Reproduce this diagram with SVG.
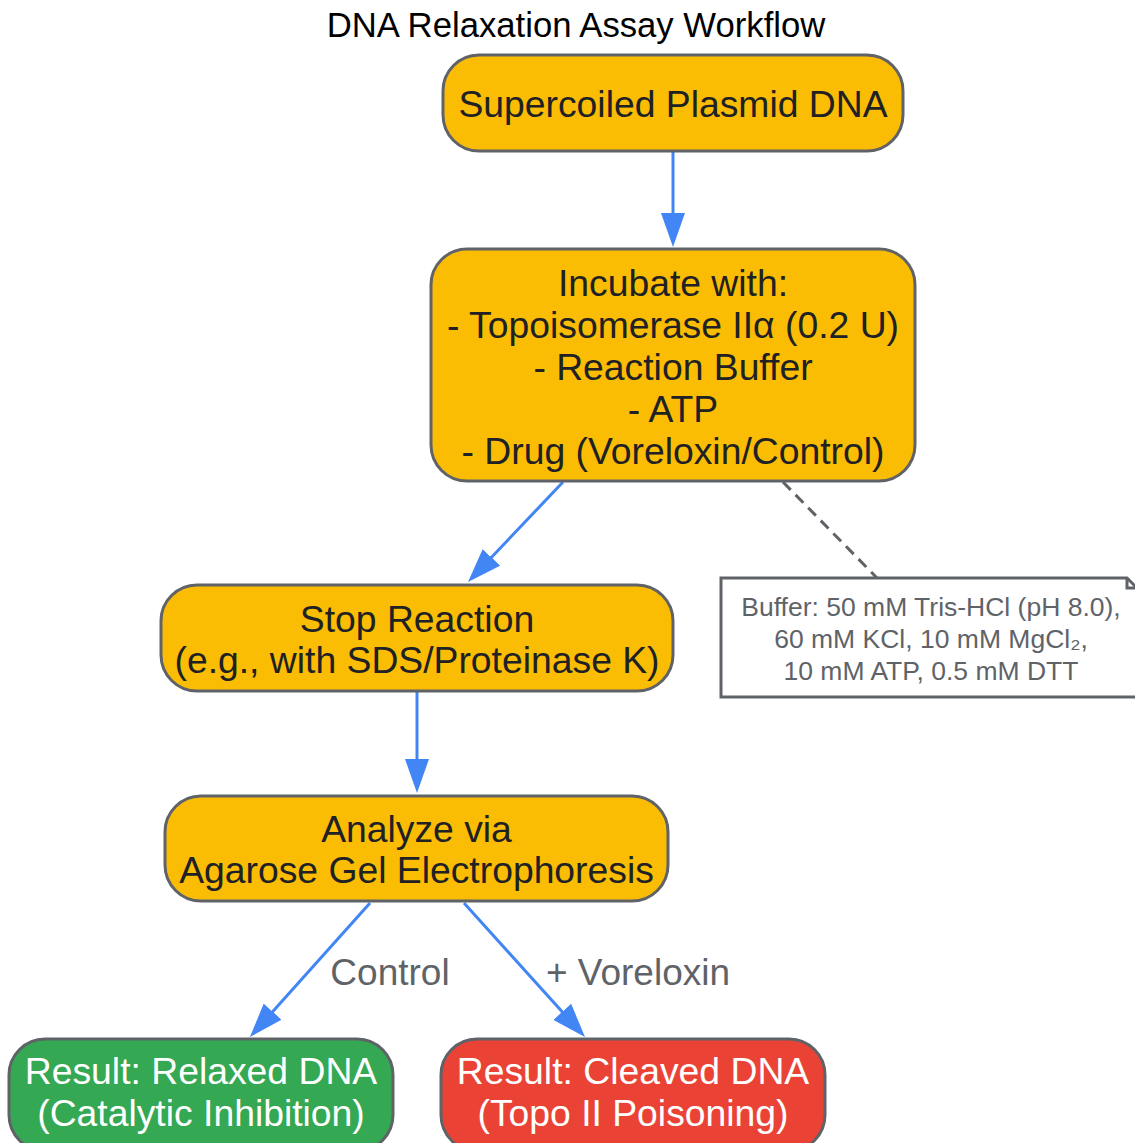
<svg xmlns="http://www.w3.org/2000/svg" width="1135" height="1143" viewBox="0 0 1135 1143">
<style>
.node rect{fill:#fbbc04;stroke:#5f6368;stroke-width:3}
.t{font-family:"Liberation Sans",Arial,sans-serif;font-size:37.3px;fill:#202124;text-anchor:middle}
.w{fill:#ffffff}
.edge{fill:none;stroke:#4285f4;stroke-width:3}
.lbl{font-family:"Liberation Sans",Arial,sans-serif;font-size:37px;fill:#5f6368;text-anchor:middle}
.note{font-family:"Liberation Sans",Arial,sans-serif;font-size:26.5px;fill:#5f6368;text-anchor:middle}
</style>
<defs>
<marker id="arr" markerUnits="userSpaceOnUse" markerWidth="34" markerHeight="24" refX="14" refY="12" orient="auto" viewBox="0 0 34 24">
<path d="M0,0 L34,12 L0,24 z" fill="#4285f4"/>
</marker>
</defs>
<rect width="1135" height="1143" fill="#ffffff"/>
<text x="576" y="37" font-family="Liberation Sans,Arial,sans-serif" font-size="34.7" fill="#000000" text-anchor="middle">DNA Relaxation Assay Workflow</text>
<g id="connectors">
<path class="edge" d="M673,151 L673,227" marker-end="url(#arr)"/>
<path class="edge" d="M563,482 L481.8,567.5" marker-end="url(#arr)"/>
<path d="M783,482 L877,578" fill="none" stroke="#5f6368" stroke-width="3" stroke-dasharray="11,7"/>
<path class="edge" d="M417,691 L417,773" marker-end="url(#arr)"/>
<path class="edge" d="M370,903 L263.3,1022.1" marker-end="url(#arr)"/>
<path class="edge" d="M464,903 L571.6,1022.2" marker-end="url(#arr)"/>
<text class="lbl" x="390" y="985">Control</text>
<text class="lbl" x="638" y="985">+ Voreloxin</text>
</g>
<g id="n1" class="node">
<rect x="443" y="55" width="460" height="96" rx="36"/>
<text class="t" x="673" y="117">Supercoiled Plasmid DNA</text>
</g>
<g id="n2" class="node">
<rect x="431" y="249" width="484" height="232" rx="36"/>
<text class="t" x="673" y="296">Incubate with:</text>
<text class="t" x="673" y="338">- Topoisomerase IIα (0.2 U)</text>
<text class="t" x="673" y="380">- Reaction Buffer</text>
<text class="t" x="673" y="422">- ATP</text>
<text class="t" x="673" y="464">- Drug (Voreloxin/Control)</text>
</g>
<g id="note">
<path d="M721,578 L1127,578 L1137,588 L1137,697 L721,697 Z" fill="#ffffff" stroke="#5f6368" stroke-width="3"/>
<path d="M1127,578 L1127,588 L1137,588" fill="none" stroke="#5f6368" stroke-width="3"/>
<text class="note" x="931" y="616">Buffer: 50 mM Tris-HCl (pH 8.0),</text>
<text class="note" x="931" y="648">60 mM KCl, 10 mM MgCl₂,</text>
<text class="note" x="931" y="680">10 mM ATP, 0.5 mM DTT</text>
</g>
<g id="n3" class="node">
<rect x="161" y="585" width="512" height="106" rx="36"/>
<text class="t" x="417" y="632">Stop Reaction</text>
<text class="t" x="417" y="673">(e.g., with SDS/Proteinase K)</text>
</g>
<g id="n4" class="node">
<rect x="165" y="796" width="503" height="105" rx="36"/>
<text class="t" x="416.5" y="842">Analyze via</text>
<text class="t" x="416.5" y="883">Agarose Gel Electrophoresis</text>
</g>
<g id="n5" class="node">
<rect x="9" y="1039" width="384" height="112" rx="36" style="fill:#34a853"/>
<text class="t w" x="201" y="1084">Result: Relaxed DNA</text>
<text class="t w" x="201" y="1126">(Catalytic Inhibition)</text>
</g>
<g id="n6" class="node">
<rect x="441" y="1039" width="384" height="112" rx="36" style="fill:#ea4335"/>
<text class="t w" x="633" y="1084">Result: Cleaved DNA</text>
<text class="t w" x="633" y="1126">(Topo II Poisoning)</text>
</g>
</svg>
